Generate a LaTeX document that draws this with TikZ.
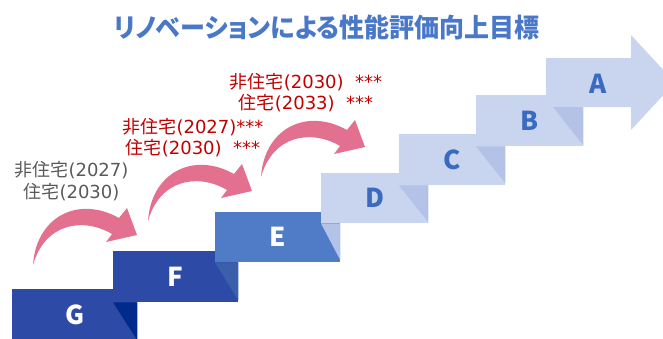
\documentclass[tikz,border=0pt]{standalone}
\usepackage{fontspec}
\setmainfont{DejaVu Sans}
\newfontfamily\jpfont{Noto Sans CJK JP}
\newfontfamily\titlefont[RawFeature=+palt]{Noto Sans CJK JP}
\usetikzlibrary{calc, positioning}
\definecolor{stepdark}{HTML}{2C4AA6}
\definecolor{folddark}{HTML}{002A8B}
\definecolor{foldmid}{HTML}{3A60AA}
\definecolor{stepmid}{HTML}{4F7BC7}
\definecolor{steplight}{HTML}{C9D4EE}
\definecolor{foldlight}{HTML}{B4C2E8}
\definecolor{letterblue}{HTML}{3A6BC0}
\definecolor{titleblue}{HTML}{4A78C8}
\definecolor{notered}{HTML}{C00000}
\definecolor{notegray}{HTML}{595959}
\definecolor{jumppink}{HTML}{E3708F}

\begin{document}
\begin{tikzpicture}[x=1pt, y=-1pt,
		stepbox/.style={rectangle, inner sep=0pt, anchor=north west, minimum height=51pt,
			font=\jpfont\bfseries\fontsize{26}{26}\selectfont},
		darkstep/.style={stepbox, fill=stepdark, text=white},
		lightstep/.style={stepbox, fill=steplight, text=letterblue},
		note/.style={align=center, font=\fontsize{18}{21.5}\selectfont},
		jump/.pic={\fill[jumppink] (0,0) .. controls (3,-48) and (45,-70) .. (86,-47) -- (94,-57) -- (104,-30)
				-- (73,-23) -- (79,-31) .. controls (50,-48) and (12,-42) .. (0,0) -- cycle;}
	]
	\useasboundingbox (0,0) rectangle (663,338);
	\clip (0,0) rectangle (663,338);

	\node[font=\titlefont\bfseries\fontsize{25}{25}\selectfont, text=titleblue, yscale=1.05] (title) at (327,27) {リノベーションによる性能評価向上目標};

	\node[darkstep, minimum width=125pt] (g) at (12,289) {G};
	\node[darkstep, minimum width=125pt] (f) at (113,251) {F};
	\fill[folddark] (f.south west) -- (g.east |- f.south) -- (g.south east) -- cycle;
	\node[stepbox, fill=stepmid, text=white, minimum width=125pt, minimum height=50pt] (e) at (215,212) {E};
	\fill[foldmid] (e.south west) -- (f.east |- e.south) -- ($(f.south east)+(0,-2)$) -- cycle;
	\node[lightstep, minimum width=107pt, minimum height=50pt] (d) at (321,173) {D};
	\fill[foldlight] (d.south west) -- (e.east |- d.south) -- ($(e.south east)+(0,-2)$) -- cycle;
	\node[lightstep, minimum width=106pt] (c) at (399,134) {C};
	\fill[foldlight] (c.south west) -- (d.east |- c.south) -- ($(d.south east)+(0,-1)$) -- cycle;
	\node[lightstep, minimum width=107pt] (b) at (476,95) {B};
	\fill[foldlight] (b.south west) -- (c.east |- b.south) -- ($(c.south east)+(0,-2)$) -- cycle;

	\coordinate (a-sw) at (546,107);
	\fill[steplight] (a-sw) -- (546,58) -- (631,58) -- (631,35) -- (675,82.5) -- (631,130) -- (631,107) -- cycle;
	\node[font=\jpfont\bfseries\fontsize{26}{26}\selectfont, text=letterblue] (a) at (598,84) {A};
	\fill[foldlight] ($(a-sw)+(7,0)$) -- (b.east |- a-sw) -- ($(b.south east)+(0,-1)$) -- cycle;

	\pic at (33,265) {jump};
	\pic at (148,221) {jump};
	\pic at (261,177) {jump};

	\node[note, text=notegray] (n1) at (71.5,181) {{\jpfont 非住宅}(2027)\\{\jpfont 住宅}(2030)};
	\node[note, text=notered] (n2) at (193,137.5) {{\jpfont 非住宅}(2027)***\\{\jpfont 住宅}(2030)\ \ ***};
	\node[note, text=notered] (n3) at (306,92.5) {{\jpfont 非住宅}(2030)\ \ ***\\{\jpfont 住宅}(2033)\ \ ***};
\end{tikzpicture}
\end{document}
